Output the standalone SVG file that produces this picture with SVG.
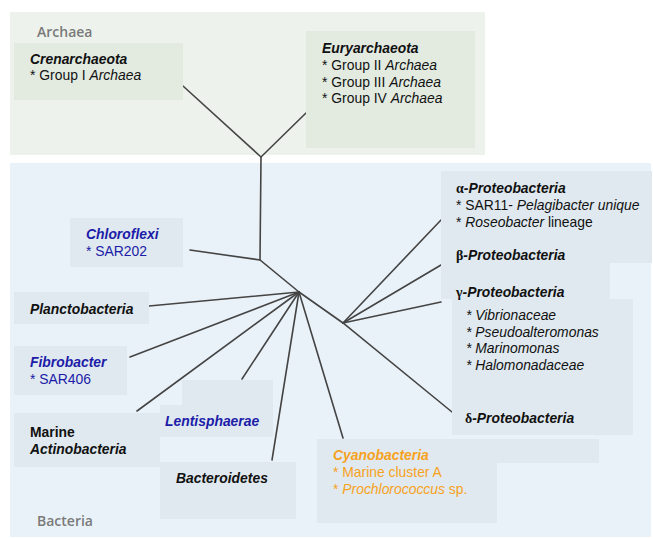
<svg xmlns="http://www.w3.org/2000/svg" width="653" height="538" viewBox="0 0 653 538">
<style>
.t{font-family:"Liberation Sans",Arial,sans-serif;font-size:13.9px;fill:#111}
.b{font-weight:bold}
.i{font-style:italic}
.g{font-family:"Liberation Serif","Times New Roman",serif;font-style:normal;font-weight:bold}
.blue{fill:#1c1ca8}
.or{fill:#f7a21e}
.panelA{fill:#edf3ec}
.panelB{fill:#eaf2f9}
.boxA{fill:#e3ebe1}
.boxB{fill:#e0e9ef}
.title{font-family:"Open Sans","Liberation Sans",sans-serif;font-size:14px;font-weight:600;fill:#7a7a7a}
.edge{stroke:#444;stroke-width:1.6;fill:none;stroke-linecap:round}
</style>
<rect width="653" height="538" fill="#ffffff"/>
<g id="archaea-panel">
<rect class="panelA" x="10" y="12" width="475" height="143"/>
<text class="title" x="37" y="37">Archaea</text>
</g>
<g id="bacteria-panel">
<rect class="panelB" x="10" y="163" width="641" height="374"/>
<text class="title" x="37" y="526">Bacteria</text>
</g>
<g id="connectors">
<path class="edge" d="M183,86 L261,157 L306,113"/>
<path class="edge" d="M261,157 L260,260"/>
<path class="edge" d="M190,250 L260,260 L299,292"/>
<path class="edge" d="M299,292 L149,306"/>
<path class="edge" d="M299,292 L130,357"/>
<path class="edge" d="M299,292 L137,411"/>
<path class="edge" d="M299,292 L242,379"/>
<path class="edge" d="M299,292 L272,460"/>
<path class="edge" d="M299,292 L343,438"/>
<path class="edge" d="M299,292 L343,323 L452,412"/>
<path class="edge" d="M343,323 L441,220"/>
<path class="edge" d="M343,323 L441,265"/>
<path class="edge" d="M343,323 L441,302"/>
</g>
<g id="crenarchaeota">
<rect class="boxA" x="14" y="43" width="169" height="57"/>
<text class="t b i" x="30" y="64">Crenarchaeota</text>
<text class="t" x="30" y="80">* Group I <tspan class="i">Archaea</tspan></text>
</g>
<g id="euryarchaeota">
<rect class="boxA" x="306" y="31" width="169" height="117"/>
<text class="t b i" x="322" y="53">Euryarchaeota</text>
<text class="t" x="322" y="70">* Group II <tspan class="i">Archaea</tspan></text>
<text class="t" x="322" y="87">* Group III <tspan class="i">Archaea</tspan></text>
<text class="t" x="322" y="103">* Group IV <tspan class="i">Archaea</tspan></text>
</g>
<g id="chloroflexi">
<rect class="boxB" x="70" y="218" width="113" height="49"/>
<text class="t b i blue" x="86" y="239">Chloroflexi</text>
<text class="t blue" x="86" y="256">* SAR202</text>
</g>
<g id="planctobacteria">
<rect class="boxB" x="14" y="292" width="135" height="32"/>
<text class="t b i" x="30" y="314">Planctobacteria</text>
</g>
<g id="fibrobacter">
<rect class="boxB" x="14" y="346" width="113" height="49"/>
<text class="t b i blue" x="30" y="367">Fibrobacter</text>
<text class="t blue" x="30" y="384">* SAR406</text>
</g>
<g id="actinobacteria">
<rect class="boxB" x="14" y="413" width="146" height="54"/>
<text class="t b" x="30" y="437">Marine</text>
<text class="t b i" x="30" y="454">Actinobacteria</text>
</g>
<g id="lentisphaerae">
<rect class="boxB" x="182" y="380" width="91" height="57"/>
<rect class="boxB" x="160" y="405" width="22" height="32"/>
<text class="t b i blue" x="165" y="426">Lentisphaerae</text>
</g>
<g id="bacteroidetes">
<rect class="boxB" x="160" y="462" width="136" height="57"/>
<text class="t b i" x="176" y="483">Bacteroidetes</text>
</g>
<g id="cyanobacteria">
<path class="boxB" d="M317,439 H599 V463 H497 V523 H317 Z"/>
<text class="t b i or" x="333" y="460">Cyanobacteria</text>
<text class="t or" x="333" y="477">* Marine cluster A</text>
<text class="t or" x="333" y="494">* <tspan class="i">Prochlorococcus</tspan> sp.</text>
</g>
<g id="proteobacteria">
<path class="boxB" d="M441,171 H652 V263 H610 V299 H633 V435 H452 V299 H441 Z"/>
<text class="t b i" x="456" y="193"><tspan class="g">α</tspan>-Proteobacteria</text>
<text class="t" x="456" y="210">* SAR11- <tspan class="i">Pelagibacter unique</tspan></text>
<text class="t" x="456" y="227">* <tspan class="i">Roseobacter</tspan> lineage</text>
<text class="t b i" x="456" y="260"><tspan class="g">β</tspan>-Proteobacteria</text>
<text class="t b i" x="456" y="297"><tspan class="g">γ</tspan>-Proteobacteria</text>
<text class="t i" x="466" y="320">* Vibrionaceae</text>
<text class="t i" x="466" y="337">* Pseudoalteromonas</text>
<text class="t i" x="466" y="353">* Marinomonas</text>
<text class="t i" x="466" y="370">* Halomonadaceae</text>
<text class="t b i" x="465" y="423"><tspan class="g">δ</tspan>-Proteobacteria</text>
</g>
</svg>
